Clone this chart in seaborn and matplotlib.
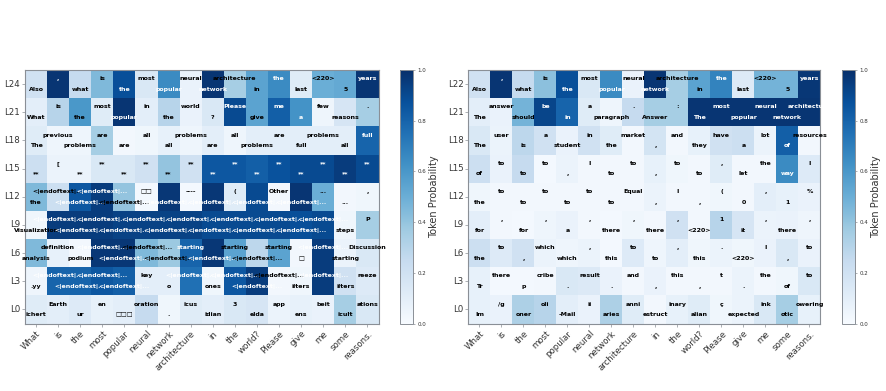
import matplotlib
matplotlib.use("Agg")
import matplotlib.pyplot as plt
import numpy as np
import seaborn as sns

W, H = 886, 391
columns = ["What", "is", "the", "most", "popular", "neural", "network", "architecture",
           "in", "the", "world?", "Please", "give", "me", "some", "reasons."]
E = "<|endoftext|..."
B = "\u25a1"

left_labels = ["L24", "L21", "L18", "L15", "L12", "L9", "L6", "L3", "L0"]
left_tokens = [
    ["Also", ",", "what", "is", "the", "most", "popular", "neural", "network", "architecture", "in", "the", "last", "<220>", "5", "years"],
    ["What", "is", "the", "most", "popular", "in", "the", "world", "?", "Please", "give", "me", "a", "few", "reasons", "."],
    ["The", "previous", "problems", "are", "are", "all", "all", "problems", "are", "all", "problems", "are", "full", "problems", "all", "full"],
    ["**", "[", "**", "**", "**", "**", "**", "**", "**", "**", "**", "**", "**", "**", "**", "**"],
    ["the", E, E, E, E, B + B, E, "----", E, "(", E, "Other", E, "...", "...", ","],
    ["Visualization", E, E, E, E, E, E, E, E, E, E, E, E, E, "steps", "P"],
    ["analysis", "definition", "podium", E, E, E, E, "starting", E, "starting", E, "starting", B, E, "starting", "Discussion"],
    [".yy", E, E, E, E, "key", "o", E, "ones", E, E, E, "ilters", E, "ilters", "reeze"],
    ["ichert", "Earth", "ur", "en", B + B + B, "oration", ".", "icus", "idian", "3", "elda", "app", "ens", "beit", "icult", "ations"],
]
left_values = [
    [.20, .98, .25, .45, .88, .15, .65, .07, .98, .35, .55, .65, .12, .50, .52, .98],
    [.10, .30, .60, .12, .98, .10, .30, .07, .15, .90, .55, .82, .62, .05, .17, .35],
    [.12, .05, .05, .35, .03, .04, .08, .05, .10, .05, .10, .10, .10, .10, .10, .80],
    [.22, .06, .06, .15, .15, .20, .40, .20, .85, .85, .82, .87, .90, .90, .95, .90],
    [.45, .22, .85, .95, .40, .02, .97, .02, .97, .12, .90, .03, .98, .50, .03, .04],
    [.04, .95, .95, .95, .93, .93, .93, .93, .90, .90, .90, .90, .88, .90, .04, .35],
    [.45, .08, .03, .97, .97, .45, .38, .80, .97, .55, .28, .55, .03, .95, .06, .15],
    [.05, .80, .80, .85, .82, .10, .10, .75, .04, .85, .95, .03, .04, .95, .20, .13],
    [.12, .10, .13, .08, .10, .25, .04, .12, .10, .15, .17, .06, .08, .07, .35, .15],
]

right_labels = ["L22", "L21", "L18", "L15", "L12", "L9", "L6", "L3", "L0"]
right_tokens = [
    ["Also", ",", "what", "is", "the", "most", "popular", "neural", "network", "architecture", "in", "the", "last", "<220>", "5", "years"],
    ["The", "answer", "should", "be", "in", "a", "paragraph", ".", "Answer", ":", "The", "most", "popular", "neural", "network", "architecture"],
    ["The", "user", "is", "a", "student", "in", "the", "market", ",", "and", "they", "have", "a", "lot", "of", "resources"],
    ["of", "to", "to", "to", ",", "I", "to", "to", ",", "to", "to", ",", "let", "the", "way", "I"],
    ["the", "to", "to", "to", "to", "to", "to", "Equal", ",", "I", ",", "(", "0", ",", "1", "%"],
    ["for", ",", "for", ",", "a", ",", "there", ",", "there", ",", "<220>", "1", "it", ",", "there", ","],
    ["the", "to", ",", "which", "which", ",", "this", "to", "to", ",", "this", ".", "<220>", "I", ",", "to"],
    ["Tr", "there", "p", "cribe", ".", "result", ".", "and", ",", "this", ",", "t", ".", "the", "of", "to"],
    ["Im", "/g", "oner", "oli", "-Mail", "ii", "aries", "anni", "estruct", "inary", "alian", "\u00e7", "expected", "ink", "otic", "owering"],
]
right_values = [
    [.20, .98, .25, .42, .88, .15, .65, .07, .98, .35, .55, .68, .13, .48, .48, .97],
    [.10, .07, .48, .92, .80, .12, .05, .25, .35, .35, .98, .98, .98, .98, .98, .98],
    [.15, .06, .28, .20, .07, .20, .12, .03, .18, .03, .08, .20, .22, .06, .82, .03],
    [.22, .07, .25, .02, .06, .03, .03, .03, .08, .04, .03, .12, .03, .03, .65, .13],
    [.04, .03, .03, .03, .03, .03, .03, .03, .06, .03, .03, .04, .03, .10, .08, .07],
    [.10, .03, .02, .05, .07, .03, .02, .04, .03, .20, .03, .30, .17, .06, .07, .05],
    [.22, .13, .20, .06, .05, .06, .02, .13, .05, .10, .04, .06, .04, .07, .15, .07],
    [.08, .02, .02, .03, .15, .14, .07, .03, .07, .03, .03, .03, .06, .03, .04, .15],
    [.08, .07, .33, .30, .10, .07, .33, .12, .03, .08, .12, .04, .06, .15, .35, .08],
]

sns.set_theme(style="white")
plt.rcParams["font.family"] = ["DejaVu Sans"]
fig = plt.figure(figsize=(W / 100, H / 100), dpi=100)


def box(x0, y0, x1, y1):
    return [x0 / W, 1 - y1 / H, (x1 - x0) / W, (y1 - y0) / H]


GRAY = "#8a8f96"
TXT = "#333333"


def panel(ax_box, cb_box, tokens, values, labels):
    ax = fig.add_axes(box(*ax_box))
    cax = fig.add_axes(box(*cb_box))
    sns.heatmap(np.array(values), ax=ax, cbar_ax=cax, vmin=0, vmax=1, cmap="Blues",
                xticklabels=columns, yticklabels=labels, linewidths=0)
    ax.tick_params(axis="both", length=2, width=0.5, color=GRAY, labelcolor=TXT, bottom=True, left=True)
    ax.tick_params(axis="y", labelsize=6.2, pad=1.5)
    ax.tick_params(axis="x", labelsize=6.2, pad=2)
    plt.setp(ax.get_yticklabels(), rotation=0)
    plt.setp(ax.get_xticklabels(), rotation=45, ha="right", rotation_mode="anchor")
    for s in ax.spines.values():
        s.set_visible(True)
        s.set_color(GRAY)
        s.set_linewidth(0.8)
    for r, (row_t, row_v) in enumerate(zip(tokens, values)):
        for c, (tok, v) in enumerate(zip(row_t, row_v)):
            off = 0.69 if c % 2 == 0 else 0.31
            ax.text(c + 0.5, r + off, tok, ha="center", va="center", fontsize=4.5,
                    fontweight="bold", color="white" if v > 0.6 else "black")
    cb = ax.collections[0].colorbar
    cb.set_ticks([0, .2, .4, .6, .8, 1.0])
    cb.ax.tick_params(labelsize=4, length=1.5, width=0.5, color=GRAY, labelcolor=TXT, pad=1.5, right=True)
    cb.outline.set_visible(True)
    cb.outline.set_edgecolor(GRAY)
    cb.outline.set_linewidth(0.7)
    cb.set_label("Token Probability", fontsize=7, color=TXT, labelpad=2)


panel((25, 70, 378.5, 323.5), (400, 70, 413, 323.5), left_tokens, left_values, left_labels)
panel((468.5, 70, 820.5, 323.5), (842, 70, 855, 323.5), right_tokens, right_values, right_labels)

fig.savefig("out.png", dpi=100)
